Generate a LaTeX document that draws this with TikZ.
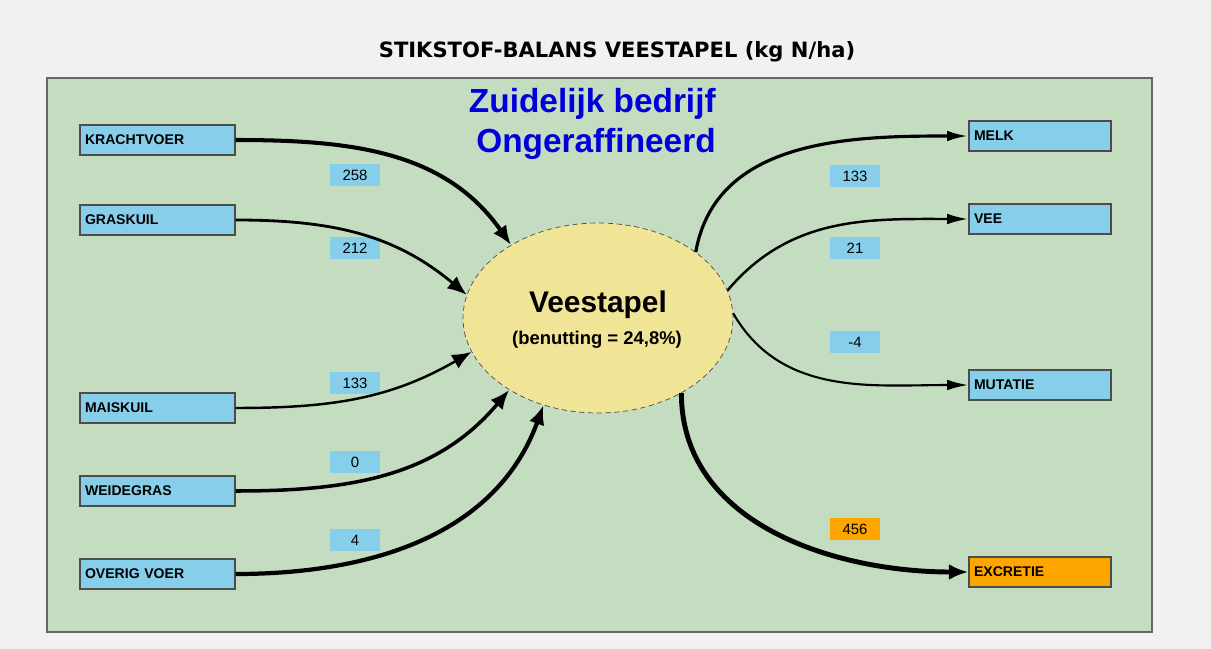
\documentclass[tikz,border=0pt]{standalone}
\usepackage{fontspec}
\setmainfont{Liberation Sans}
\newfontfamily\titlefont{DejaVu Sans}
\usepackage{xcolor}
\definecolor{Col0}{RGB}{241,241,241}
\definecolor{Col1}{RGB}{196,220,192}
\definecolor{Col2}{RGB}{135,206,235}
\definecolor{Col3}{RGB}{255,165,0}
\definecolor{Col4}{RGB}{240,228,150}
\definecolor{Col5}{RGB}{0,0,220}
\usetikzlibrary{shapes.geometric}
\usetikzlibrary{arrows.meta}
\tikzstyle{Box}=[rectangle,draw=black!70,fill=Col2,line width=0.8pt,
minimum width=3.1cm,minimum height=0.6cm,text width=2.9cm,align=left,
inner sep=2.8pt,font=\fontsize{8}{9}\selectfont\bfseries]
\tikzstyle{BoxOut}=[Box,minimum width=2.84cm,text width=2.64cm]
\tikzstyle{Value}=[fill=Col2,minimum width=1cm,minimum height=0.44cm,
inner sep=0pt,font=\fontsize{8.5}{9}\selectfont]
\tikzstyle{Edge}=[draw=black,-{Latex[length=11pt,width=9pt]}]
\tikzstyle{EdgeOut}=[draw=black,-{Latex[length=12pt,width=6pt]}]

\begin{document}
\begin{tikzpicture}[x=0.02cm,y=-0.02cm]
        \fill[Col0](0,0)rectangle(1211,649);
        \filldraw[fill=Col1,draw=black!60,line width=0.9pt](47,78)rectangle(1152,632);
        \node[font=\titlefont\fontsize{12}{13}\selectfont\bfseries](t)at(617,52){STIKSTOF-BALANS VEESTAPEL (kg N/ha)};
        \node[font=\fontsize{19}{23}\selectfont\bfseries,text=Col5,align=right,
            anchor=north east,inner sep=0pt](z)at(716,88){Zuidelijk bedrijf\\Ongeraffineerd};
        \node[ellipse,draw=black!70,densely dashed,thin,fill=Col4,
            minimum width=5.4cm,minimum height=3.8cm](v)at(598,318){};
        \node[font=\fontsize{17}{19}\selectfont\bfseries](vt)at(598,305){Veestapel};
        \node[font=\fontsize{10.5}{12}\selectfont\bfseries](vb)at(597,340){(benutting = 24,8\%)};
        % aanvoer
        \node[Box](kv)at(157.5,140){KRACHTVOER};
        \node[Box](gk)at(157.5,220){GRASKUIL};
        \node[Box](mk)at(157.5,408){MAISKUIL};
        \node[Box](wg)at(157.5,491){WEIDEGRAS};
        \node[Box](ov)at(157.5,574){OVERIG VOER};
        \node[Value](kvn)at(355,175){258};
        \node[Value](gkn)at(355,248){212};
        \node[Value](mkn)at(355,383){133};
        \node[Value](wgn)at(355,462){0};
        \node[Value](ovn)at(355,540){4};
        % afvoer
        \node[BoxOut](me)at(1040,136){MELK};
        \node[BoxOut](ve)at(1040,219){VEE};
        \node[BoxOut](mu)at(1040,385){MUTATIE};
        \node[BoxOut,fill=Col3](ex)at(1040,572){EXCRETIE};
        \node[Value](men)at(855,176){133};
        \node[Value](ven)at(855,248){21};
        \node[Value](mun)at(855,342){-4};
        \node[Value,fill=Col3](exn)at(855,529){456};
        \draw[Edge,line width=2.3pt](kv.east)to[out=0,in=125](v.140);
        \draw[Edge,line width=1.6pt](gk.east)to[out=0,in=140](v.170);
        \draw[Edge,line width=1.4pt](mk.east)to[out=0,in=210](v.195);
        \draw[Edge,line width=2pt](wg.east)to[out=0,in=230](v.219);
        \draw[Edge,line width=2.4pt](ov.east)to[out=0,in=250](v.238);
        \draw[EdgeOut,line width=1.8pt](v.34)to[out=80,in=180](me.west);
        \draw[EdgeOut,line width=1.4pt](v.12)to[out=50,in=180](ve.west);
        \draw[EdgeOut,line width=1.2pt](v.2)to[out=-60,in=180](mu.west);
        \draw[Edge,line width=2.8pt](v.-42)to[out=-90,in=180](ex.west);
    \end{tikzpicture}
\end{document}
